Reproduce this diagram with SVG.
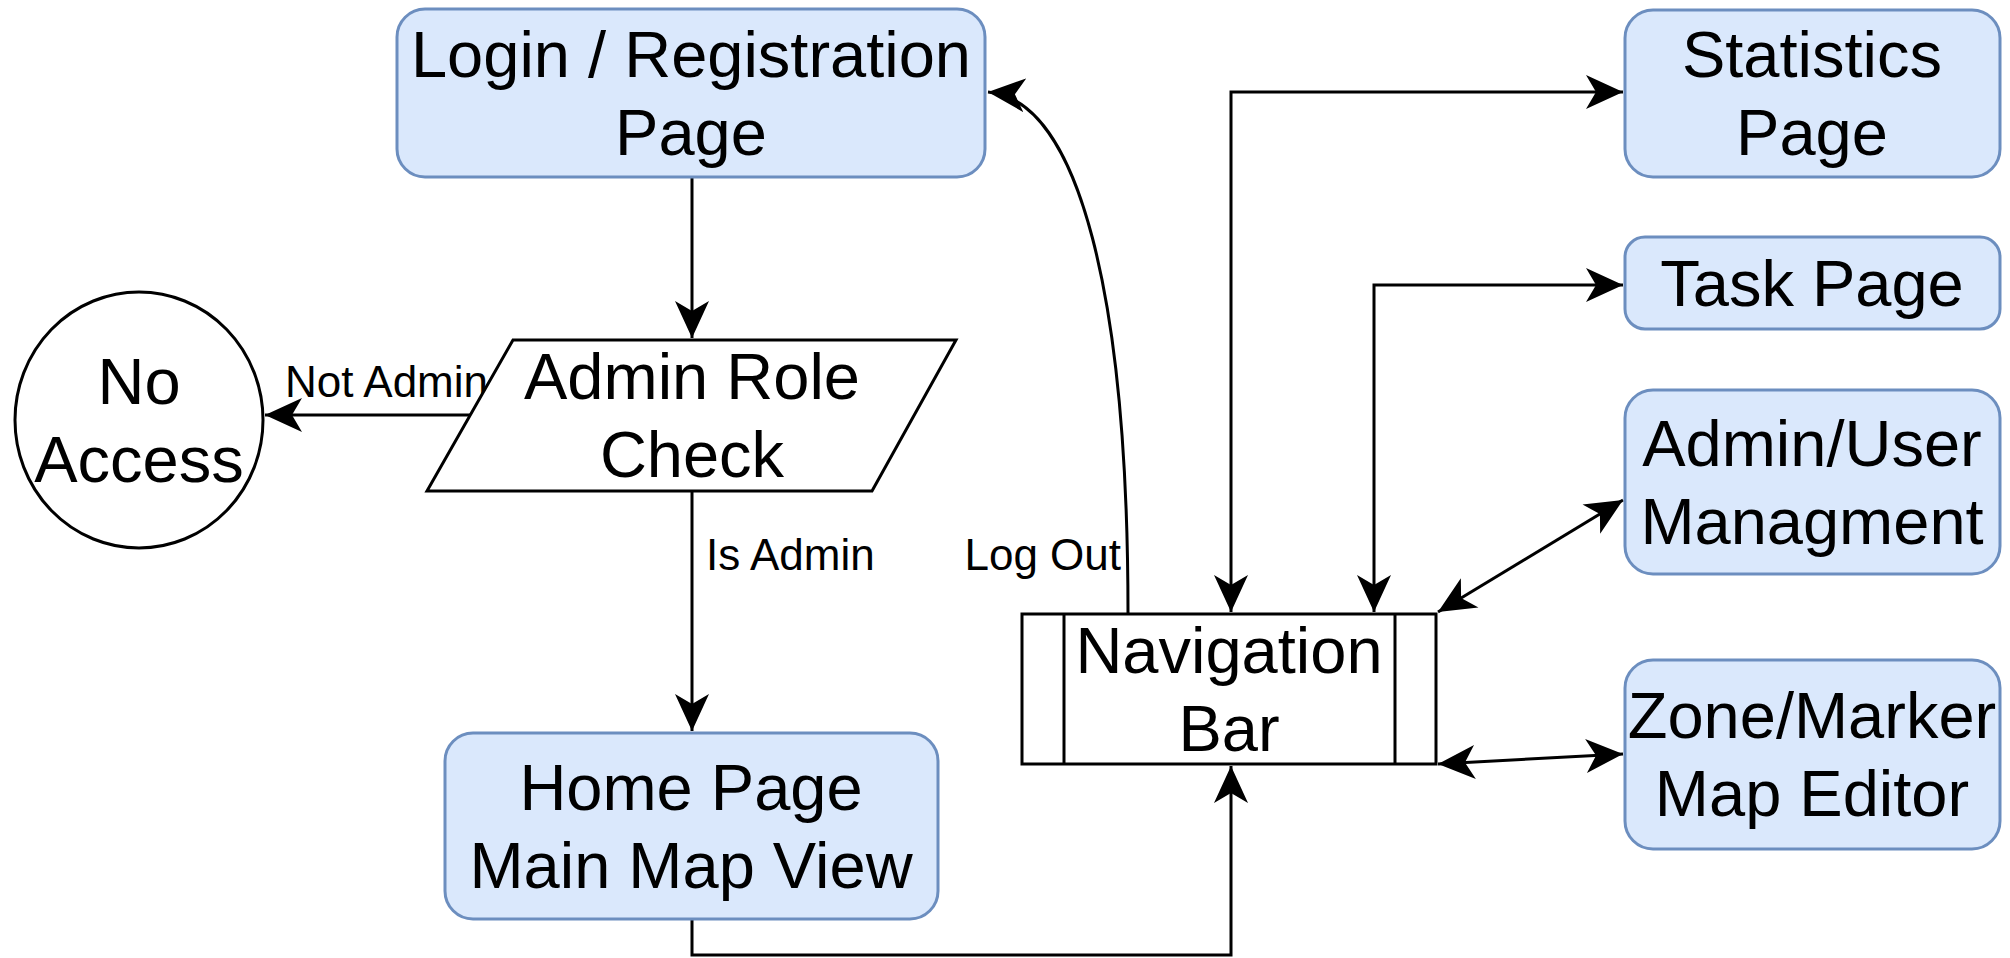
<svg xmlns="http://www.w3.org/2000/svg" width="2010" height="958" viewBox="0 0 2010 958">
<style>
.box{fill:#dae8fc;stroke:#6c8ebf;stroke-width:3}
.plain{fill:#ffffff;stroke:#000;stroke-width:3}
.t{font-family:"Liberation Sans",Arial,sans-serif;font-size:65px;fill:#000;text-anchor:middle}
.lbl{font-family:"Liberation Sans",Arial,sans-serif;font-size:44px;fill:#000}
.e{fill:none;stroke:#000;stroke-width:3}
</style>
<defs>
<marker id="arr" markerUnits="userSpaceOnUse" markerWidth="40" markerHeight="36" refX="37" refY="17" orient="auto-start-reverse" viewBox="0 0 40 34">
<path d="M0,0 L37,17 L0,34 L10,17 Z" fill="#000"/>
</marker>
</defs>
<rect width="2010" height="958" fill="#ffffff"/>
<g id="connectors">
<path class="e" d="M692,177 L692,338" marker-end="url(#arr)"/>
<path class="e" d="M470,415 L265,415" marker-end="url(#arr)"/>
<path class="e" d="M692,491 L692,731" marker-end="url(#arr)"/>
<path class="e" d="M692,919 L692,955 L1231,955 L1231,766" marker-end="url(#arr)"/>
<path class="e" d="M1128,614 C1128,300 1080,100 988,92" marker-end="url(#arr)"/>
<path class="e" d="M1231,612 L1231,92 L1623,92" marker-start="url(#arr)" marker-end="url(#arr)"/>
<path class="e" d="M1374,612 L1374,285 L1623,285" marker-start="url(#arr)" marker-end="url(#arr)"/>
<path class="e" d="M1438,612 L1623,500" marker-start="url(#arr)" marker-end="url(#arr)"/>
<path class="e" d="M1438,764 L1623,754" marker-start="url(#arr)" marker-end="url(#arr)"/>
<text class="lbl" x="488" y="397" text-anchor="end">Not Admin</text>
<text class="lbl" x="706" y="570">Is Admin</text>
<text class="lbl" x="1121" y="570" text-anchor="end">Log Out</text>
</g>
<g id="login">
<rect class="box" x="397" y="9" width="588" height="168" rx="28"/>
<text class="t" x="691" y="77">Login / Registration</text>
<text class="t" x="691" y="155">Page</text>
</g>
<g id="adminRoleCheck">
<path class="plain" d="M513,340 L956,340 L872,491 L427,491 Z"/>
<text class="t" x="692" y="399">Admin Role</text>
<text class="t" x="692" y="477">Check</text>
</g>
<g id="noAccess">
<ellipse class="plain" cx="139" cy="420" rx="124" ry="128"/>
<text class="t" x="139" y="404">No</text>
<text class="t" x="139" y="482">Access</text>
</g>
<g id="home">
<rect class="box" x="445" y="733" width="493" height="186" rx="28"/>
<text class="t" x="691" y="810">Home Page</text>
<text class="t" x="691" y="888">Main Map View</text>
</g>
<g id="navBar">
<rect class="plain" x="1022" y="614" width="414" height="150"/>
<line class="e" x1="1064" y1="614" x2="1064" y2="764"/>
<line class="e" x1="1395" y1="614" x2="1395" y2="764"/>
<text class="t" x="1229" y="673">Navigation</text>
<text class="t" x="1229" y="751">Bar</text>
</g>
<g id="statistics">
<rect class="box" x="1625" y="10" width="375" height="167" rx="28"/>
<text class="t" x="1812" y="77">Statistics</text>
<text class="t" x="1812" y="155">Page</text>
</g>
<g id="task">
<rect class="box" x="1625" y="237" width="375" height="92" rx="20"/>
<text class="t" x="1812" y="306">Task Page</text>
</g>
<g id="adminUser">
<rect class="box" x="1625" y="390" width="375" height="184" rx="28"/>
<text class="t" x="1812" y="466">Admin/User</text>
<text class="t" x="1812" y="544">Managment</text>
</g>
<g id="zoneMarker">
<rect class="box" x="1625" y="660" width="375" height="189" rx="28"/>
<text class="t" x="1812" y="738">Zone/Marker</text>
<text class="t" x="1812" y="816">Map Editor</text>
</g>
</svg>
